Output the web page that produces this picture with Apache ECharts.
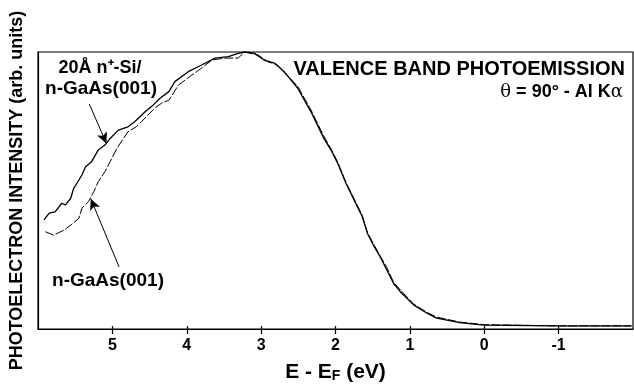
<!DOCTYPE html>
<html>
<head>
<meta charset="utf-8">
<script src="https://cdn.jsdelivr.net/npm/echarts@6/dist/echarts.min.js"></script>
<style>
html,body{margin:0;padding:0;background:#fff;}
#main{width:634px;height:389px;}
</style>
</head>
<body>
<div id="main"></div>
<script>
// x 刻度
const xTicks = [5, 4, 3, 2, 1, 0, -1]

// 20Å n+-Si / n-GaAs(001)  实线
const eSi = [5.92, 5.85, 5.77, 5.68, 5.63, 5.56, 5.52, 5.45, 5.41, 5.36, 5.28, 5.19, 5.10, 5.03, 4.92, 4.79, 4.70, 4.56, 4.45, 4.36, 4.24, 4.16, 3.98, 3.80, 3.62, 3.44, 3.31, 3.22, 3.09, 2.96, 2.82, 2.69, 2.51, 2.33, 2.16, 2.06, 1.97, 1.86, 1.75, 1.64, 1.57, 1.48, 1.40, 1.31, 1.22, 1.11, 0.95, 0.77, 0.64, 0.33, 0.01, -1.01, -1.98]
const iSi = [39.4, 41.8, 42.3, 45.4, 44.8, 47.2, 50.8, 53.8, 55.6, 58.6, 60.4, 64.6, 66.4, 68.8, 71.8, 73.0, 74.8, 78.4, 80.9, 83.3, 85.7, 89.3, 92.9, 95.3, 97.8, 98.3, 99.5, 100, 99.5, 97.1, 96.0, 92.9, 87.0, 78.4, 69.0, 64.6, 59.8, 52.6, 46.6, 40.5, 34.5, 29.7, 26.1, 21.3, 16.5, 12.9, 8.7, 5.7, 3.9, 2.3, 1.4, 1.1, 1.1]

// n-GaAs(001)  虚线
const eGaAs = [5.90, 5.79, 5.65, 5.56, 5.45, 5.41, 5.32, 5.25, 5.19, 5.10, 5.03, 4.94, 4.85, 4.79, 4.68, 4.61, 4.52, 4.43, 4.34, 4.24, 4.11, 3.93, 3.80, 3.66, 3.49, 3.31, 3.22, 3.04, 2.91, 2.78, 2.69, 2.51, 2.33, 2.16, 2.06, 1.97, 1.86, 1.75, 1.64, 1.57, 1.48, 1.40, 1.31, 1.22, 1.11, 0.95, 0.77, 0.64, 0.33, 0.01, -1.01, -1.98]
const iGaAs = [35.1, 33.9, 35.7, 37.5, 40.0, 43.6, 46.0, 49.6, 53.2, 56.8, 60.4, 65.2, 68.8, 71.2, 73.0, 74.8, 77.3, 79.7, 81.5, 82.6, 88.1, 91.7, 94.2, 97.1, 97.8, 97.8, 100, 98.9, 96.5, 95.3, 92.6, 87.7, 79.1, 69.7, 65.0, 60.2, 53.0, 47.0, 41.0, 34.8, 30.3, 26.4, 22.2, 16.9, 13.6, 9.0, 6.0, 4.3, 2.5, 1.6, 1.1, 1.1]

const font = 'Liberation Sans, Arial, Helvetica, sans-serif'

let chart = echarts.init(document.getElementById('main'))

let option = {
    backgroundColor:'#fff',
    animation:false,
    grid:{
        left:36,
        top:52,
        right:1,
        bottom:60,
        show:true,
        borderColor:'#000',
        borderWidth:1.2
    },
    xAxis:[
        {
            type:'value',
            min:-2,
            max:6,
            interval:1,
            inverse:true,
            name:'E - E{sub|F} (eV)',
            nameLocation:'middle',
            nameGap:32,
            nameTextStyle:{
                fontFamily:font,
                fontWeight:'bold',
                fontSize:21,
                color:'#000',
                rich:{
                    sub:{
                        fontFamily:font,
                        fontWeight:'bold',
                        fontSize:14,
                        color:'#000',
                        padding:[8,0,0,0]
                    }
                }
            },
            axisLine:{ onZero:false, lineStyle:{ color:'#000', width:1.2 } },
            axisTick:{
                length:5,
                customValues:xTicks,
                lineStyle:{ color:'#000', width:1.2 }
            },
            axisLabel:{
                customValues:xTicks,
                margin:9,
                fontFamily:font,
                fontWeight:'bold',
                fontSize:16,
                color:'#000'
            },
            splitLine:{ show:false }
        },
        {
            // 刻度线穿过坐标轴
            type:'value',
            min:-2,
            max:6,
            inverse:true,
            position:'bottom',
            axisLine:{ show:false, onZero:false },
            axisTick:{
                inside:true,
                length:3,
                customValues:xTicks,
                lineStyle:{ color:'#000', width:1.2 }
            },
            axisLabel:{ show:false },
            splitLine:{ show:false }
        }
    ],
    yAxis:{
        type:'value',
        min:0,
        max:100,
        position:'left',
        name:'PHOTOELECTRON INTENSITY (arb. units)',
        nameLocation:'middle',
        nameGap:12,
        nameTextStyle:{
            fontFamily:font,
            fontWeight:'bold',
            fontSize:18,
            color:'#000'
        },
        axisLine:{ show:true, onZero:false, lineStyle:{ color:'#000', width:1.2 } },
        axisTick:{ show:false },
        axisLabel:{ show:false },
        splitLine:{ show:false }
    },
    series:[
        {
            name:'20Å n+-Si/n-GaAs(001)',
            type:'line',
            data:eSi.map((e, i) => [e, iSi[i]]),
            showSymbol:false,
            lineStyle:{ color:'#000', width:1.3 },
            markLine:{
                silent:true,
                symbol:['none', 'arrow'],
                symbolSize:[8, 11],
                label:{ show:false },
                lineStyle:{ color:'#000', width:1, type:'solid' },
                data:[
                    [{ coord:[5.31, 81.2] }, { coord:[5.08, 67.0] }],
                    [{ coord:[4.91, 22.4] }, { coord:[5.29, 47.0] }]
                ]
            }
        },
        {
            name:'n-GaAs(001)',
            type:'line',
            data:eGaAs.map((e, i) => [e, iGaAs[i]]),
            showSymbol:false,
            lineStyle:{ color:'#000', width:1, type:[9, 2] }
        }
    ],
    graphic:[
        {
            type:'text',
            x:100, y:68,
            style:{
                text:'20Å n⁺-Si/',
                font:'bold 18px ' + font,
                fill:'#000',
                align:'center',
                verticalAlign:'middle'
            }
        },
        {
            type:'text',
            x:101, y:89,
            style:{
                text:'n-GaAs(001)',
                font:'bold 19px ' + font,
                fill:'#000',
                align:'center',
                verticalAlign:'middle'
            }
        },
        {
            type:'text',
            x:108, y:281,
            style:{
                text:'n-GaAs(001)',
                font:'bold 19px ' + font,
                fill:'#000',
                align:'center',
                verticalAlign:'middle'
            }
        },
        {
            type:'text',
            x:625, y:69,
            style:{
                text:'VALENCE BAND PHOTOEMISSION',
                font:'bold 20px ' + font,
                fill:'#000',
                align:'right',
                verticalAlign:'middle'
            }
        },
        {
            type:'text',
            x:623, y:92,
            style:{
                text:'{g|θ}{b| = 90° - Al K}{g|α}',
                align:'right',
                verticalAlign:'middle',
                rich:{
                    g:{ fontFamily:'DejaVu Serif, serif', fontSize:18, fill:'#000', color:'#000' },
                    b:{ fontFamily:font, fontWeight:'bold', fontSize:18, fill:'#000', color:'#000' }
                }
            }
        }
    ]
}

chart.setOption(option)
</script>
</body>
</html>
